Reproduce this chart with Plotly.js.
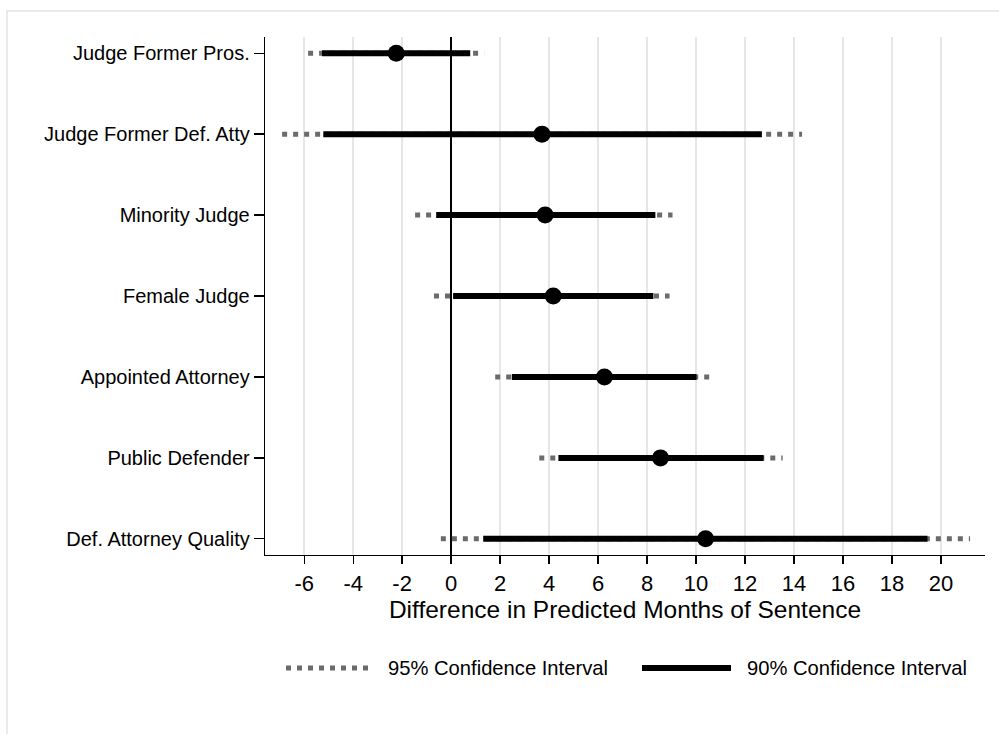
<!DOCTYPE html>
<html>
<head>
<meta charset="utf-8">
<script src="https://cdn.plot.ly/plotly-3.0.1.min.js"></script>
<style>
  html, body { margin: 0; padding: 0; background: #ffffff; }
  #chart { width: 999px; height: 734px; }
</style>
</head>
<body>
<div id="chart"></div>
<script>
// ---- data ----
var categories = ["Judge Former Pros.", "Judge Former Def. Atty", "Minority Judge", "Female Judge", "Appointed Attorney", "Public Defender", "Def. Attorney Quality"];
var estimate = [-2.24, 3.71, 3.84, 4.17, 6.26, 8.55, 10.39];
var lo90 = [-5.27, -5.22, -0.61, 0.08, 2.48, 4.38, 1.31];
var hi90 = [0.78, 12.69, 8.34, 8.26, 10.02, 12.76, 19.45];
var lo95 = [-5.84, -6.90, -1.47, -0.70, 1.80, 3.60, -0.42];
var hi95 = [1.35, 14.33, 9.04, 8.92, 10.72, 13.54, 21.19];
var xTickVals = [-6, -4, -2, 0, 2, 4, 6, 8, 10, 12, 14, 16, 18, 20];
var xTickText = ["-6", "-4", "-2", "0", "2", "4", "6", "8", "10", "12", "14", "16", "18", "20"];
var xTitle = "Difference in Predicted Months of Sentence";
var legend95 = "95% Confidence Interval";
var legend90 = "90% Confidence Interval";

// ---- build segment arrays ----
function segs(lo, hi) {
  var xs = [], ys = [];
  for (var i = 0; i < categories.length; i++) {
    xs.push(lo[i], hi[i], null);
    ys.push(categories[i], categories[i], null);
  }
  return {x: xs, y: ys};
}
var s95 = segs(lo95, hi95);
var s90 = segs(lo90, hi90);

var FONT = '"Liberation Sans", Arial, Helvetica, sans-serif';
var GRAY = '#6b6b6b';

var traces = [
  {
    type: 'scatter', mode: 'lines', name: legend95,
    x: s95.x, y: s95.y, connectgaps: false,
    line: {color: GRAY, width: 5, dash: '5px,6px'},
    hoverinfo: 'skip', showlegend: false
  },
  {
    type: 'scatter', mode: 'lines', name: legend90,
    x: s90.x, y: s90.y, connectgaps: false,
    line: {color: '#000000', width: 6},
    hoverinfo: 'skip', showlegend: false
  },
  {
    type: 'scatter', mode: 'markers', name: 'Estimate',
    x: estimate, y: categories,
    marker: {color: '#000000', size: 17, line: {width: 0}},
    showlegend: false
  }
];

// plot area in pixels: x 265..985, y 37..555
var L = 265, R = 985, T = 37, B = 555;
function px(xpix) { return (xpix - L) / (R - L); }
function py(ypix) { return (B - ypix) / (B - T); }

var legY = py(668);

var layout = {
  width: 999, height: 734,
  margin: {l: L, r: 999 - R, t: T, b: 734 - B, pad: 0},
  paper_bgcolor: '#ffffff', plot_bgcolor: '#ffffff',
  font: {family: FONT, color: '#000000'},
  showlegend: false,
  xaxis: {
    range: [-7.6, 21.8],
    tickmode: 'array', tickvals: xTickVals, ticktext: xTickText,
    ticks: 'outside', ticklen: 8, tickwidth: 1.3, tickcolor: '#000000',
    tickfont: {family: FONT, size: 22, color: '#000000'},
    showgrid: true, gridcolor: '#e6e6e6', gridwidth: 1.8,
    zeroline: true, zerolinecolor: '#000000', zerolinewidth: 1.6,
    showline: true, linecolor: '#000000', linewidth: 1.3, mirror: false,
    title: {text: xTitle, font: {family: FONT, size: 24.5, color: '#000000'}, standoff: 2},
    automargin: false, fixedrange: true
  },
  yaxis: {
    type: 'category', categoryorder: 'array', categoryarray: categories,
    range: [6.2, -0.2],
    ticks: 'outside', ticklen: 10, tickwidth: 1.3, tickcolor: '#000000',
    tickfont: {family: FONT, size: 20, color: '#000000'},
    showgrid: false, zeroline: false,
    showline: true, linecolor: '#000000', linewidth: 1.3, mirror: false,
    automargin: false, fixedrange: true
  },
  shapes: [
    // outer light frame
    {type: 'rect', xref: 'paper', yref: 'paper',
     x0: px(7), x1: px(1010), y0: py(760), y1: py(11),
     line: {color: '#e4e4e4', width: 1.5}, fillcolor: 'rgba(0,0,0,0)', layer: 'below'},
    // legend samples
    {type: 'line', xref: 'paper', yref: 'paper',
     x0: px(286), x1: px(374), y0: legY, y1: legY,
     line: {color: GRAY, width: 5, dash: '5px,6px'}},
    {type: 'line', xref: 'paper', yref: 'paper',
     x0: px(642), x1: px(731), y0: legY, y1: legY,
     line: {color: '#000000', width: 6}}
  ],
  annotations: [
    {xref: 'paper', yref: 'paper', x: px(386), y: legY, xanchor: 'left', yanchor: 'middle',
     text: legend95, showarrow: false, font: {family: FONT, size: 20.2, color: '#000000'}},
    {xref: 'paper', yref: 'paper', x: px(745), y: legY, xanchor: 'left', yanchor: 'middle',
     text: legend90, showarrow: false, font: {family: FONT, size: 20.2, color: '#000000'}}
  ]
};

Plotly.newPlot('chart', traces, layout, {displayModeBar: false, staticPlot: true});
</script>
</body>
</html>
